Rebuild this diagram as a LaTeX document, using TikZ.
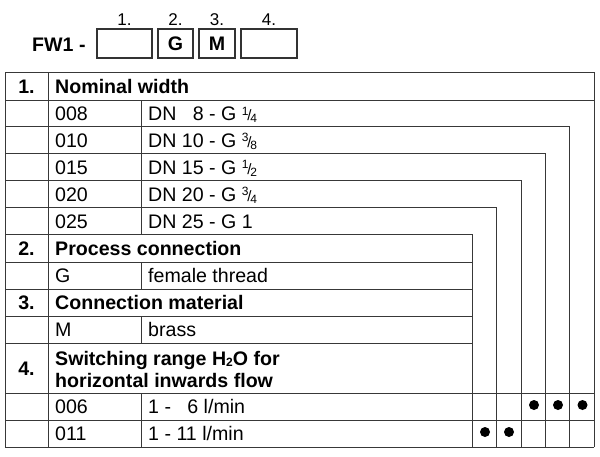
\documentclass[tikz,border=0pt]{standalone}
\usepackage{fontspec}
\setmainfont{Liberation Sans}
\newcommand{\frc}[2]{{\fontsize{12}{12}\selectfont\raisebox{5.5pt}{#1}}\kern-1.2pt{\fontsize{15}{15}\selectfont/}\kern-1.2pt{\fontsize{12}{12}\selectfont\raisebox{-2pt}{#2}}}
\newcommand{\subtwo}{{\fontsize{12}{12}\selectfont\raisebox{-1.5pt}{2}}}
\begin{document}
\begin{tikzpicture}[x=1pt,y=-1pt,
  grid/.style={draw=black!78,line width=1pt},
  cbox/.style={draw=black!80,line width=1.2pt},
  txt/.style={anchor=west,inner sep=0pt,text height=14pt,text depth=0pt,font=\fontsize{19.6}{23}\selectfont},
  btxt/.style={txt,font=\fontsize{19.6}{23}\selectfont\bfseries},
  num/.style={anchor=center,inner sep=0pt,text height=14pt,text depth=0pt,font=\fontsize{19.6}{23}\selectfont\bfseries},
  top/.style={anchor=center,inner sep=0pt,text height=12pt,text depth=0pt,font=\fontsize{17}{19}\selectfont},
  dot/.style={circle,fill=black,inner sep=0pt,minimum size=10pt}]
\useasboundingbox (0,0) rectangle (600,456);
% header code
\node[btxt] (fw) at (32,44) {FW1 -};
\draw[cbox] (97,29) rectangle (152,58);
\draw[cbox] (158,29) rectangle (193,58);
\draw[cbox] (199,29) rectangle (235,58);
\draw[cbox] (241,29) rectangle (297,58);
\node[num] (bg) at (175.5,43.5) {G};
\node[num] (bm) at (217,43.5) {M};
\node[top] (l1) at (124.5,19) {1.};
\node[top] (l2) at (175.5,19) {2.};
\node[top] (l3) at (217,19) {3.};
\node[top] (l4) at (269,19) {4.};
% horizontal lines
\draw[grid] (5,72) -- (594,72);
\draw[grid] (5,100) -- (594,100);
\draw[grid] (5,126) -- (569,126);
\draw[grid] (5,153) -- (545,153);
\draw[grid] (5,180) -- (521,180);
\draw[grid] (5,207) -- (496,207);
\draw[grid] (5,234) -- (472,234);
\foreach \y in {262,289,316,343} \draw[grid] (5,\y) -- (472,\y);
\foreach \y in {393,420,447} \draw[grid] (5,\y) -- (594,\y);
% vertical lines
\draw[grid] (5,72) -- (5,447);
\draw[grid] (48,72) -- (48,447);
\draw[grid] (594,72) -- (594,447);
\draw[grid] (569,126) -- (569,447);
\draw[grid] (545,153) -- (545,447);
\draw[grid] (521,180) -- (521,447);
\draw[grid] (496,207) -- (496,447);
\draw[grid] (472,234) -- (472,447);
\draw[grid] (141,100) -- (141,234);
\draw[grid] (141,262) -- (141,289);
\draw[grid] (141,316) -- (141,343);
\draw[grid] (141,393) -- (141,447);
% texts
\node[num] (n1) at (26.5,86.5) {1.};
\node[btxt] (t1) at (55,86.5) {Nominal width};
\node[txt] (a1) at (55,113.5) {008};
\node[txt] (b1) at (148,113.5) {DN \phantom{1}8 - G \frc{1}{4}};
\node[txt] (a2) at (55,140) {010};
\node[txt] (b2) at (148,140) {DN 10 - G \frc{3}{8}};
\node[txt] (a3) at (55,167) {015};
\node[txt] (b3) at (148,167) {DN 15 - G \frc{1}{2}};
\node[txt] (a4) at (55,194) {020};
\node[txt] (b4) at (148,194) {DN 20 - G \frc{3}{4}};
\node[txt] (a5) at (55,221) {025};
\node[txt] (b5) at (148,221) {DN 25 - G 1};
\node[num] (n2) at (26.5,248) {2.};
\node[btxt] (t2) at (55,248) {Process connection};
\node[txt] (a6) at (55,275.5) {G};
\node[txt] (b6) at (148,275.5) {female thread};
\node[num] (n3) at (26.5,302.5) {3.};
\node[btxt] (t3) at (55,302.5) {Connection material};
\node[txt] (a7) at (55,329.5) {M};
\node[txt] (b7) at (148,329.5) {brass};
\node[num] (n4) at (26.5,368) {4.};
\node[btxt] (t4a) at (55,358) {Switching range H\subtwo O for};
\node[btxt] (t4b) at (55,380) {horizontal inwards flow};
\node[txt] (a8) at (55,406.5) {006};
\node[txt] (b8) at (148,406.5) {1 - \phantom{1}6 l/min};
\node[txt] (a9) at (55,433.5) {011};
\node[txt] (b9) at (148,433.5) {1 - 11 l/min};
% dots
\node[dot] (d1) at (534,405) {};
\node[dot] (d2) at (558,405) {};
\node[dot] (d3) at (582.5,405) {};
\node[dot] (d4) at (485,432) {};
\node[dot] (d5) at (509,432) {};
\end{tikzpicture}
\end{document}
